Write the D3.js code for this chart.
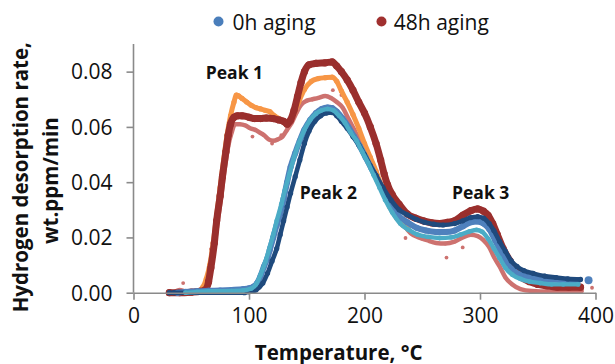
<!DOCTYPE html>
<html>
<head>
<meta charset="utf-8">
<script src="https://cdn.jsdelivr.net/npm/d3@7"></script>
<style>
  html, body { margin: 0; padding: 0; background: #fff; }
  svg { display: block; font-family: "Open Sans", "Noto Sans", sans-serif; }
</style>
</head>
<body>
<svg id="chart" width="615" height="364"></svg>
<script>
// ---------------- DATA ----------------
const xTicks = [0, 100, 200, 300, 400];
const yTicks = [0.00, 0.02, 0.04, 0.06, 0.08];
const xTitle = "Temperature, °C";
const yTitle = ["Hydrogen desorption rate,", "wt.ppm/min"];
const legendLabels = ["0h aging", "48h aging"];

// 48h aging, sample A (dark red, large markers)
const h48a = [[31,0],[40,0],[50,0.0002],[58,0.0005],[62,0.001],[65,0.004],[67,0.009],[70,0.018],[72,0.026],[75,0.035],[77,0.042],[80,0.051],[82,0.057],[84,0.061],[87,0.0635],[90,0.064],[94,0.064],[100,0.0635],[105,0.063],[110,0.063],[115,0.0632],[121,0.063],[126,0.0625],[130,0.062],[133,0.061],[136,0.0625],[139,0.066],[142,0.071],[145,0.076],[148,0.080],[152,0.0825],[158,0.083],[166,0.0832],[172,0.0835],[176,0.082],[180,0.080],[185,0.077],[190,0.0733],[195,0.069],[200,0.065],[205,0.060],[210,0.054],[214,0.048],[217,0.043],[220,0.039],[224,0.0355],[230,0.032],[237,0.0285],[244,0.027],[251,0.026],[258,0.0253],[265,0.025],[272,0.0255],[278,0.026],[285,0.028],[292,0.0297],[298,0.0303],[303,0.0295],[307,0.028],[311,0.025],[315,0.021],[320,0.016],[326,0.0115],[331,0.008],[336,0.0055],[343,0.004],[350,0.003],[358,0.0025],[367,0.002],[377,0.002],[387,0.002]];
// 48h aging, sample B (orange)
const h48b = [[50,0],[56,0.0005],[60,0.002],[63,0.005],[66,0.01],[69,0.018],[72,0.028],[75,0.038],[78,0.048],[81,0.057],[84,0.064],[87,0.069],[89,0.0715],[91,0.0712],[94,0.0703],[98,0.069],[102,0.0678],[106,0.067],[110,0.0665],[114,0.066],[118,0.0655],[122,0.064],[128,0.0625],[133,0.061],[138,0.064],[143,0.069],[148,0.0735],[154,0.0765],[160,0.0775],[166,0.0778],[172,0.078],[176,0.0765],[180,0.073],[185,0.069],[190,0.0645],[195,0.0595],[200,0.054],[205,0.049],[210,0.044],[216,0.037],[222,0.031],[228,0.027],[233,0.0245],[238,0.023]];
// 48h aging, sample C (light red, small scattered dots)
const h48c = [[35,0],[40,0.001],[45,0.0005],[52,0.0005],[58,0.001],[62,0.003],[66,0.008],[70,0.017],[73,0.026],[76,0.035],[79,0.045],[82,0.053],[85,0.058],[88,0.061],[92,0.061],[97,0.0605],[101,0.0595],[105,0.059],[109,0.058],[113,0.057],[117,0.0555],[121,0.055],[125,0.0555],[129,0.0565],[133,0.059],[137,0.0615],[141,0.065],[145,0.068],[150,0.0695],[155,0.070],[160,0.0705],[166,0.0712],[171,0.0705],[176,0.069],[181,0.067],[186,0.063],[191,0.059],[196,0.055],[201,0.051],[206,0.047],[211,0.042],[216,0.038],[222,0.033],[228,0.028],[234,0.0245],[240,0.0215],[247,0.020],[254,0.019],[262,0.018],[270,0.0178],[278,0.0185],[285,0.020],[292,0.021],[298,0.0205],[303,0.019],[308,0.0165],[312,0.013],[317,0.0095],[322,0.0055],[328,0.003],[335,0.0013],[345,0.0006],[360,0.0004],[375,0.0005],[388,0.0006]];
const h48cOutliers = [[43,0.0035],[67,0.0158],[103,0.0565],[120,0.054],[128,0.057],[172.6,0.0733],[180,0.0715],[235.5,0.0198],[250,0.0195],[271,0.0127],[285,0.0164],[397,0.0018]];
// 0h aging, sample A (medium blue)
const h0a = [[38,0],[45,0.0003],[55,0.0005],[65,0.0007],[75,0.0008],[85,0.001],[95,0.0013],[100,0.0016],[104,0.0022],[107,0.0035],[110,0.006],[113,0.0095],[116,0.0125],[118,0.0155],[121,0.020],[124,0.0245],[127,0.0285],[130,0.034],[133,0.040],[136,0.0455],[140,0.0505],[144,0.055],[148,0.059],[153,0.0625],[158,0.065],[163,0.0665],[168,0.067],[172,0.0668],[176,0.0655],[181,0.063],[186,0.060],[191,0.0565],[196,0.053],[201,0.049],[206,0.045],[211,0.041],[216,0.037],[222,0.032],[229,0.028],[237,0.0255],[245,0.0235],[253,0.0225],[262,0.022],[270,0.022],[278,0.0225],[285,0.024],[292,0.0255],[298,0.0258],[303,0.025],[308,0.023],[313,0.019],[318,0.015],[323,0.011],[329,0.008],[335,0.0065],[343,0.0055],[352,0.005],[362,0.0047],[372,0.0045],[385,0.0045]];
const h0aOutliers = [[394,0.0045]];
// 0h aging, sample B (dark navy)
const h0b = [[31,0],[35,0],[96,0],[100,0.0003],[106,0.001],[112,0.0035],[116,0.007],[120,0.0115],[124,0.016],[127,0.021],[130,0.026],[133,0.031],[136,0.036],[140,0.042],[144,0.048],[148,0.054],[152,0.0585],[157,0.062],[162,0.064],[167,0.065],[172,0.0652],[176,0.064],[180,0.062],[185,0.0595],[190,0.0565],[195,0.0535],[200,0.050],[205,0.046],[210,0.0425],[216,0.038],[223,0.0335],[230,0.030],[237,0.0282],[245,0.0265],[252,0.0255],[260,0.0248],[268,0.0245],[278,0.025],[285,0.026],[292,0.0272],[298,0.0275],[303,0.027],[308,0.025],[312,0.0225],[317,0.0185],[322,0.015],[327,0.0115],[332,0.0095],[338,0.008],[346,0.007],[356,0.006],[366,0.0055],[376,0.005],[387,0.0048]];
// 0h aging, sample C (light cyan-blue)
const h0c = [[45,0],[55,0.0003],[65,0.0005],[75,0.0005],[85,0.0006],[95,0.0008],[102,0.0015],[106,0.003],[110,0.0065],[114,0.011],[118,0.0165],[121,0.021],[124,0.026],[128,0.032],[131,0.037],[135,0.043],[139,0.049],[143,0.054],[148,0.059],[153,0.0625],[158,0.0648],[163,0.066],[168,0.0665],[173,0.066],[178,0.064],[183,0.0615],[188,0.058],[193,0.055],[198,0.051],[203,0.047],[208,0.0425],[213,0.038],[218,0.0335],[224,0.029],[231,0.025],[238,0.0228],[246,0.021],[255,0.0202],[265,0.0198],[275,0.020],[283,0.021],[291,0.0222],[297,0.0227],[302,0.022],[307,0.0195],[312,0.016],[317,0.0125],[322,0.009],[328,0.0065],[335,0.005],[343,0.004],[352,0.0035],[362,0.003],[372,0.003],[385,0.003]];

const peakLabels = [["Peak 1", 87.4, 0.080], ["Peak 2", 168.8, 0.0366], ["Peak 3", 300.6, 0.0366]];

// ---------------- CHART ----------------
const svg = d3.select("#chart");
const x = d3.scaleLinear().domain([0, 400]).range([133.5, 595.5]);
const y = d3.scaleLinear().domain([0, 0.09]).range([292.7, 44]);

const series = [
  { data: h48c, color: "#c55a57", r: 1.9, band: 4.5, opacity: 0.85, extra: h48cOutliers },
  { data: h48b, color: "#f79646", r: 2.6, band: 5, opacity: 1 },
  { data: h48a, color: "#9a2f2d", r: 3.6, band: 7, opacity: 1 },
  { data: h0a,  color: "#4f81bd", r: 3.0, band: 6, opacity: 1, extra: h0aOutliers, extraR: 4 },
  { data: h0b,  color: "#1f4a7d", r: 2.6, band: 4.6, opacity: 1 },
  { data: h0c,  color: "#4bacc6", r: 2.4, band: 4.4, opacity: 1 }
];

const line = d3.line().x(d => x(d[0])).y(d => y(d[1])).curve(d3.curveMonotoneX);

const plot = svg.append("g");
series.forEach(s => {
  const g = plot.append("g").attr("opacity", s.opacity);
  g.append("path").datum(s.data)
    .attr("d", line)
    .attr("fill", "none")
    .attr("stroke", s.color)
    .attr("stroke-width", s.band)
    .attr("stroke-linecap", "round")
    .attr("stroke-linejoin", "round");
  g.selectAll("circle.pt").data(s.data).join("circle")
    .attr("class", "pt")
    .attr("cx", d => x(d[0])).attr("cy", d => y(d[1]))
    .attr("r", s.r).attr("fill", s.color);
  if (s.extra) {
    g.selectAll("circle.ex").data(s.extra).join("circle")
      .attr("class", "ex")
      .attr("cx", d => x(d[0])).attr("cy", d => y(d[1]))
      .attr("r", s.extraR || s.r).attr("fill", s.color);
  }
});

// axes
const axisColor = "#8a8a8a";
const gx = svg.append("g").attr("transform", `translate(0,${y(0)})`)
  .call(d3.axisBottom(x).tickValues(xTicks).tickSize(7).tickSizeOuter(0).tickPadding(8).tickFormat(d3.format("d")));
const gy = svg.append("g").attr("transform", `translate(${x(0)},0)`)
  .call(d3.axisLeft(y).tickValues(yTicks).tickSize(7).tickSizeOuter(0).tickPadding(14).tickFormat(d3.format(".2f")));
gy.select(".domain").attr("d", `M0,${y(0.09)}V${y(0)}`);
[gx, gy].forEach(g => {
  g.select(".domain").attr("stroke", axisColor).attr("stroke-width", 1.6);
  g.selectAll(".tick line").attr("stroke", axisColor).attr("stroke-width", 1.6);
  g.selectAll(".tick text").attr("fill", "#111").style("font-size", "21px")
    .style("font-family", '"Open Sans", sans-serif');
});
gy.selectAll(".tick text").attr("dy", "0.35em");

// axis titles
svg.append("text").attr("x", 338.7).attr("y", 351.5)
  .attr("text-anchor", "middle").attr("dominant-baseline", "central")
  .style("font-size", "20.5px").style("font-weight", "bold").attr("fill", "#111")
  .text(xTitle);
[[20.3, 177.2], [49.7, 180.6]].forEach((p, i) => {
  svg.append("text").attr("transform", `translate(${p[0]},${p[1]}) rotate(-90)`)
    .attr("text-anchor", "middle").attr("dominant-baseline", "central")
    .style("font-size", "20.5px").style("font-weight", "bold").attr("fill", "#111")
    .text(yTitle[i]);
});

// peak annotations
svg.selectAll("text.peak").data(peakLabels).join("text")
  .attr("class", "peak")
  .attr("x", d => x(d[1])).attr("y", d => y(d[2]))
  .attr("text-anchor", "middle").attr("dominant-baseline", "central")
  .style("font-size", "17.5px").style("font-weight", "bold").attr("fill", "#111")
  .text(d => d[0]);

// legend
const legendItems = [
  { label: legendLabels[0], color: "#4a7ebb", cx: 218.5, tx: 232.6 },
  { label: legendLabels[1], color: "#a0302f", cx: 381.5, tx: 393.8 }
];
legendItems.forEach(it => {
  svg.append("circle").attr("cx", it.cx).attr("cy", 21.5).attr("r", 5).attr("fill", it.color);
  svg.append("text").attr("x", it.tx).attr("y", 21.5).attr("dominant-baseline", "central")
    .style("font-size", "21px").attr("fill", "#111").text(it.label);
});
</script>
</body>
</html>
